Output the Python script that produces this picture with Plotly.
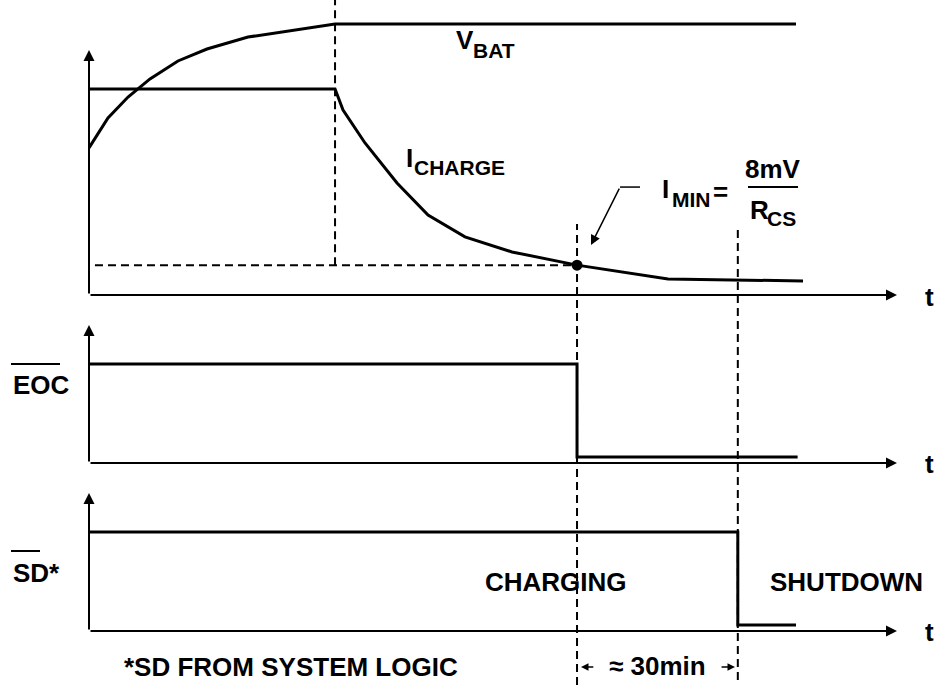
import plotly.graph_objects as go

# ---------------- data ----------------
# time axis in arbitrary units (0 .. 100 = end of t axis)
T_VBAT = [0, 2.35, 4.83, 7.55, 11.01, 14.6, 19.68, 25.25, 30.45, 87.5]
VBAT = [7.14, 8.59, 9.61, 10.49, 11.36, 11.94, 12.52, 12.86, 13.16, 13.16]

T_ICHARGE = [0, 30.45, 31.44, 34.16, 38.12, 41.96, 46.53, 52.35, 60.4, 71.66, 88.37]
ICHARGE = [10, 10, 8.98, 7.38, 5.44, 3.88, 2.82, 2.09, 1.45, 0.78, 0.68]

T_EOC = [0, 60.4, 60.4, 87.7]
EOC = [1, 1, 0.06, 0.06]

T_SD = [0, 80.3, 80.3, 87.5]
SD = [1, 1, 0.06, 0.06]

T_CV = 30.45      # end of constant-current phase
T_IMIN = 60.4     # I_CHARGE reaches I_MIN
T_SHDN = 80.3     # shutdown, ~30 min later
I_MIN = 1.45

T_END = 100
Y_TOP_ARROW = 11.89
Y_LOGIC_ARROW = 1.394

LBL_VBAT = ("V", "BAT")
LBL_ICH = ("I", "CHARGE")
LBL_IMIN = ("I", "MIN", "=")
LBL_FRAC = ("8mV", "R", "CS")
LBL_EOC = "EOC"
LBL_SD = "SD*"
LBL_CHG = "CHARGING"
LBL_SHDN = "SHUTDOWN"
LBL_NOTE = "*SD FROM SYSTEM LOGIC"
LBL_30 = "≈ 30min"
LBL_T = "t"

FONT = "Liberation Sans, Arial, Helvetica, sans-serif"
BLACK = "black"
W, H = 935, 685

fig = go.Figure()

sig = dict(color=BLACK, width=3)
fig.add_trace(go.Scatter(x=T_VBAT, y=VBAT, mode="lines", line=sig, xaxis="x", yaxis="y"))
fig.add_trace(go.Scatter(x=T_ICHARGE, y=ICHARGE, mode="lines", line=sig, xaxis="x", yaxis="y"))
fig.add_trace(go.Scatter(x=[T_IMIN], y=[I_MIN], mode="markers",
                         marker=dict(color=BLACK, size=11), xaxis="x", yaxis="y"))
fig.add_trace(go.Scatter(x=T_EOC, y=EOC, mode="lines", line=sig, xaxis="x", yaxis="y2"))
fig.add_trace(go.Scatter(x=T_SD, y=SD, mode="lines", line=sig, xaxis="x", yaxis="y3"))

# ---------------- shapes ----------------
dash = dict(color=BLACK, width=2, dash="8px,5px")
shapes = [
    dict(type="line", xref="x", yref="y", x0=T_CV, x1=T_CV, y0=I_MIN, y1=14.32, line=dash),
    dict(type="line", xref="x", yref="y", x0=0.74, x1=T_IMIN, y0=I_MIN, y1=I_MIN, line=dash),
    dict(type="line", xref="x", yref="paper", x0=T_IMIN, x1=T_IMIN, y0=0, y1=0.673, line=dash),
    dict(type="line", xref="x", yref="paper", x0=T_SHDN, x1=T_SHDN, y0=0.0073, y1=0.6686, line=dash),
    # fraction bar and leader
    dict(type="line", xref="x", yref="y", x0=81.56, x1=87.75, y0=5.24, y1=5.24,
         line=dict(color=BLACK, width=2)),
    dict(type="line", xref="x", yref="y", x0=65.72, x1=68.19, y0=5.24, y1=5.24,
         line=dict(color=BLACK, width=1.5)),
    # overlines for active-low signals
    dict(type="line", xref="paper", yref="paper", x0=11 / W, x1=60 / W,
         y0=1 - 364 / H, y1=1 - 364 / H, line=dict(color=BLACK, width=2)),
    dict(type="line", xref="paper", yref="paper", x0=11 / W, x1=40 / W,
         y0=1 - 551 / H, y1=1 - 551 / H, line=dict(color=BLACK, width=2)),
]

# ---------------- annotations ----------------
ann = []


def arrow(x, y, ax, ay, yref, width=2, size=1.1, head=2):
    ann.append(dict(x=x, y=y, ax=ax, ay=ay, xref="x", yref=yref, axref="x", ayref=yref,
                    text="", showarrow=True, arrowhead=head, arrowsize=size,
                    arrowwidth=width, arrowcolor=BLACK, standoff=0))


def harrow(x, ax, py):
    # short horizontal arrow below the plots (paper y)
    ann.append(dict(x=x, y=1 - py / H, ax=ax, ay=0, xref="x", yref="paper",
                    axref="x", ayref="pixel", text="", showarrow=True, arrowhead=2,
                    arrowsize=1, arrowwidth=1.5, arrowcolor=BLACK, standoff=0))


def label(text, x, y, yref, size=26, xanchor="left"):
    ann.append(dict(x=x, y=y, xref="x", yref=yref, text=text, showarrow=False,
                    xanchor=xanchor, yanchor="middle",
                    font=dict(family=FONT, size=size, color=BLACK, weight="bold")))


def plabel(text, px, py, size=26, xanchor="left"):
    ann.append(dict(x=px / W, y=1 - py / H, xref="paper", yref="paper", text=text,
                    showarrow=False, xanchor=xanchor, yanchor="middle",
                    font=dict(family=FONT, size=size, color=BLACK, weight="bold")))


# axes with arrowheads
for yref, ytip in (("y", Y_TOP_ARROW), ("y2", Y_LOGIC_ARROW), ("y3", Y_LOGIC_ARROW)):
    arrow(T_END, 0, 0, 0, yref)
    arrow(0, ytip, 0, 0, yref)

# leader arrow to I_MIN point
arrow(62.13, 2.43, 65.72, 5.24, "y", width=1.5, size=1.3)
# 30 min arrows
harrow(60.89, 62.6, 667)
harrow(79.95, 78.1, 667)

SUB = 21
label(LBL_VBAT[0], 45.17, 12.38, "y")
label(LBL_VBAT[1], 47.28, 11.87, "y", size=SUB)
label(LBL_ICH[0], 38.99, 6.63, "y")
label(LBL_ICH[1], 39.98, 6.17, "y", size=SUB)
label(LBL_IMIN[0], 70.67, 5.17, "y")
label(LBL_IMIN[1], 71.91, 4.66, "y", size=SUB)
label(LBL_IMIN[2], 78.2, 5.0, "y", xanchor="center")
label(LBL_FRAC[0], 84.71, 6.14, "y", xanchor="center")
label(LBL_FRAC[1], 81.56, 4.15, "y")
label(LBL_FRAC[2], 83.66, 3.71, "y", size=SUB)

plabel(LBL_T, 929, 296.5, xanchor="center")
plabel(LBL_T, 929, 463.5, xanchor="center")
plabel(LBL_T, 929, 631.5, xanchor="center")

plabel(LBL_EOC, 11, 385)
plabel(LBL_SD, 11, 572.5)
label(LBL_CHG, 48.76, 0.495, "y3")
label(LBL_SHDN, 84.03, 0.495, "y3")
plabel(LBL_NOTE, 122, 667)
plabel(LBL_30, 657.5, 666, xanchor="center")

hidden = dict(visible=False, showgrid=False, zeroline=False, fixedrange=True)
fig.update_layout(
    width=W, height=H,
    margin=dict(l=0, r=0, t=0, b=0, pad=0),
    paper_bgcolor="white", plot_bgcolor="white",
    showlegend=False,
    xaxis=dict(domain=[89 / W, 897 / W], range=[0, T_END], **hidden),
    yaxis=dict(domain=[1 - 295 / H, 1], range=[0, 295 / 20.6], anchor="x", **hidden),
    yaxis2=dict(domain=[1 - 463 / H, 1 - 310 / H], range=[0, 153 / 99], anchor="x", **hidden),
    yaxis3=dict(domain=[1 - 631 / H, 1 - 478 / H], range=[0, 153 / 99], anchor="x", **hidden),
    shapes=shapes,
    annotations=ann,
    font=dict(family=FONT, color=BLACK),
)

fig.write_html("out.html", config={"displayModeBar": False},
               post_script="document.body.style.margin='0';document.body.style.overflow='hidden';")
